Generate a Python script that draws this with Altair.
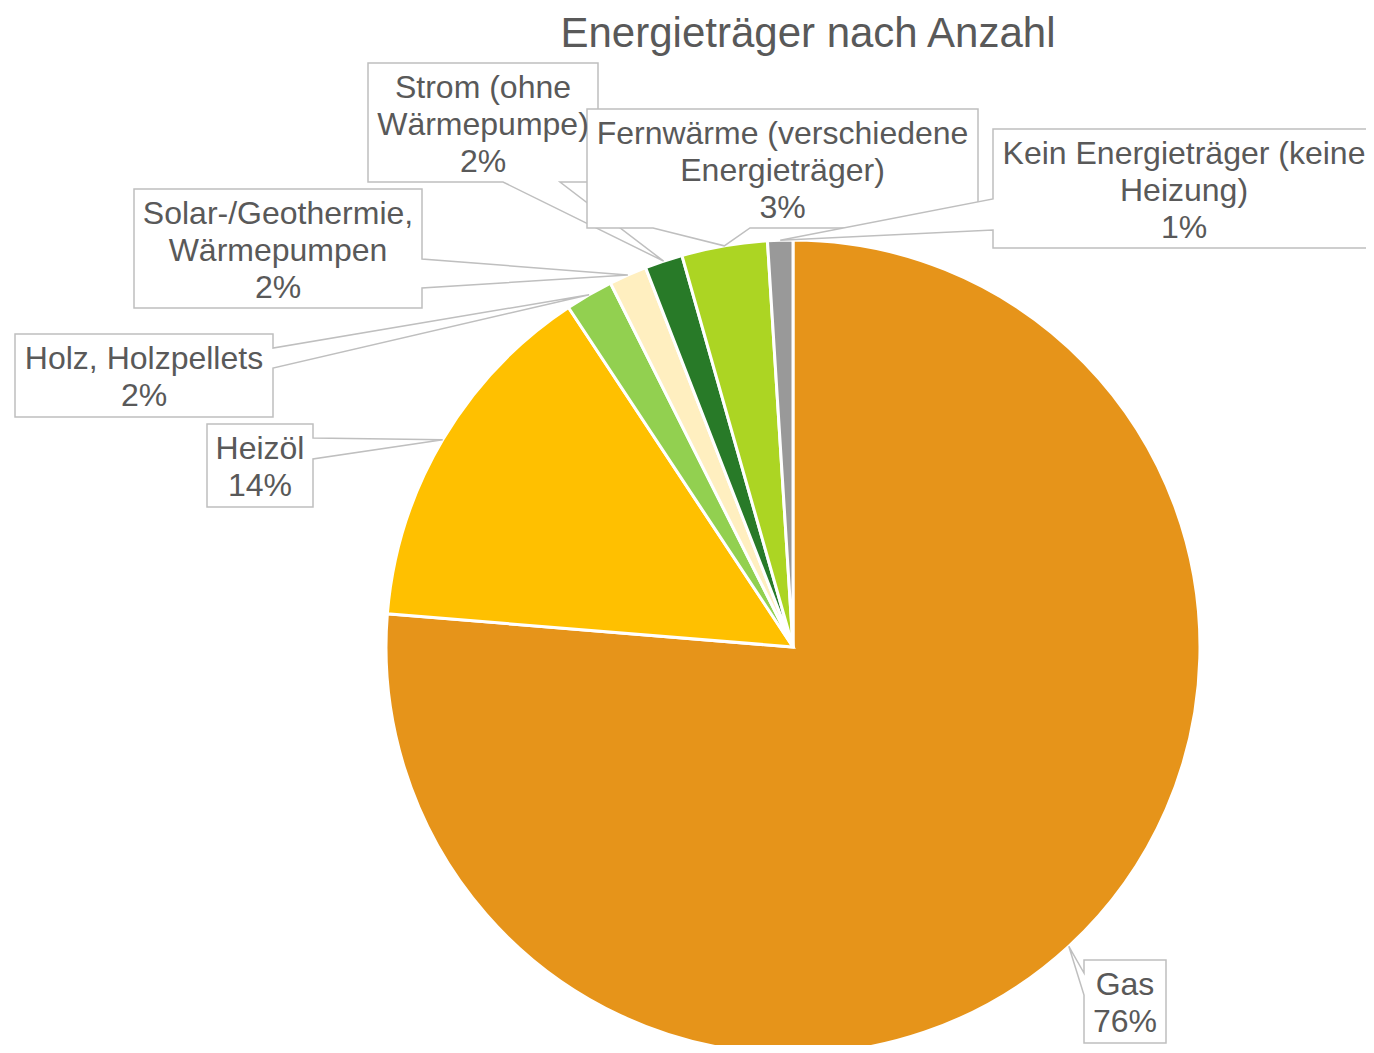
import math
import altair as alt
import pandas as pd

# ---------------- data ----------------
title_text = "Energieträger nach Anzahl"
categories = [
    "Gas",
    "Heizöl",
    "Holz, Holzpellets",
    "Solar-/Geothermie, Wärmepumpen",
    "Strom (ohne Wärmepumpe)",
    "Fernwärme (verschiedene Energieträger)",
    "Kein Energieträger (keine Heizung)",
]
shares = [76.3, 14.4, 1.9, 1.5, 1.5, 3.4, 1.0]
colors = ["#E6941A", "#FFC000", "#92D050", "#FFEFC0", "#287A28", "#ACD523", "#999999"]
label_lines = [
    ["Gas"],
    ["Heizöl"],
    ["Holz, Holzpellets"],
    ["Solar-/Geothermie,", "Wärmepumpen"],
    ["Strom (ohne", "Wärmepumpe)"],
    ["Fernwärme (verschiedene", "Energieträger)"],
    ["Kein Energieträger (keine", "Heizung)"],
]

# ---------------- layout ----------------
W, H = 1358, 1037
CX, CY, R = 785, 639, 407
TEXT_COLOR = "#595959"
BORDER = "#BFBFBF"
FONT = "Liberation Sans"
# callout boxes: x0, y0, x1, y1, side of pointer, pointer base start, end
boxes = [
    (1076, 952, 1158, 1035, "left", 965, 987),
    (199, 416, 305, 499, "right", 430, 451),
    (7, 326, 265, 409, "right", 340, 360),
    (126, 181, 414, 300, "right", 251, 280),
    (360, 55, 590, 174, "bottom", 495, 552),
    (579, 101, 970, 220, "bottom", 645, 742),
    (985, 121, 1367, 240, "left", 191, 222),
]
FIRST_BASE, LINE_H = 34.5, 37

# ---------------- pie ----------------
pie_df = pd.DataFrame({"cat": categories, "value": shares, "idx": list(range(len(categories)))})

pie = alt.Chart(pie_df).mark_arc(radius=R, stroke="white", strokeWidth=3).encode(
    theta=alt.Theta("value:Q", stack=True),
    order=alt.Order("idx:Q"),
    color=alt.Color("cat:N", scale=alt.Scale(domain=categories, range=colors), legend=None),
    x=alt.value(CX),
    y=alt.value(CY),
)

# ---------------- callouts ----------------
total = sum(shares)
features = []
text_rows = []
cum = 0.0
for i, cat in enumerate(categories):
    start = cum / total * 2 * math.pi
    cum += shares[i]
    end = cum / total * 2 * math.pi
    mid = (start + end) / 2
    tx, ty = CX + R * math.sin(mid), CY - R * math.cos(mid)
    x0, y0, x1, y1, side, n0, n1 = boxes[i]
    if side == "bottom":
        pts = [(x0, y0), (x1, y0), (x1, y1), (n1, y1), (tx, ty), (n0, y1), (x0, y1)]
    elif side == "right":
        pts = [(x0, y0), (x1, y0), (x1, n0), (tx, ty), (x1, n1), (x1, y1), (x0, y1)]
    else:
        pts = [(x0, y0), (x1, y0), (x1, y1), (x0, y1), (x0, n1), (tx, ty), (x0, n0)]
    pts.append(pts[0])
    features.append({
        "type": "Feature",
        "properties": {"cat": cat},
        "geometry": {"type": "Polygon", "coordinates": [[list(p) for p in pts]]},
    })
    lines = label_lines[i] + [f"{int(shares[i] + 0.5)}%"]
    for j, ln in enumerate(lines):
        text_rows.append({"x": (x0 + x1) / 2, "y": y0 + FIRST_BASE + LINE_H * j, "t": ln})

callouts = alt.Chart(alt.Data(values=features)).mark_geoshape(
    fill="white", stroke=BORDER, strokeWidth=1.5
).project(type="identity", scale=1, translate=[0, 0])

labels = alt.Chart(pd.DataFrame(text_rows)).mark_text(
    font=FONT, fontSize=32, color=TEXT_COLOR, align="center", baseline="alphabetic"
).encode(
    x=alt.X("x:Q", scale=None),
    y=alt.Y("y:Q", scale=None),
    text="t:N",
)

title = alt.Chart(pd.DataFrame([{"x": 800, "y": 39, "t": title_text}])).mark_text(
    font=FONT, fontSize=42, color=TEXT_COLOR, align="center", baseline="alphabetic"
).encode(
    x=alt.X("x:Q", scale=None),
    y=alt.Y("y:Q", scale=None),
    text="t:N",
)

chart = alt.layer(pie, callouts, labels, title).properties(
    width=W, height=H, autosize=alt.AutoSizeParams(type="none"), padding=0, background="white"
).configure_view(stroke=None)

chart.save("out.html", embed_options={"renderer": "svg", "actions": False})
